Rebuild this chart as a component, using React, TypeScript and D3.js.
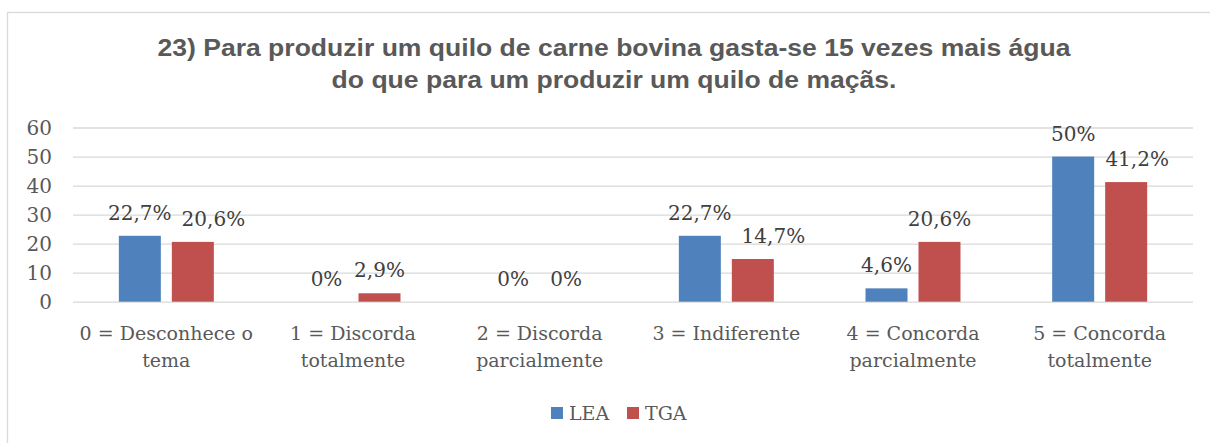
import React, { useEffect, useRef } from 'react';
import * as d3 from 'd3';

// dados
const categorias = [
  '0 = Desconhece o\ntema',
  '1 = Discorda\ntotalmente',
  '2 = Discorda\nparcialmente',
  '3 = Indiferente',
  '4 = Concorda\nparcialmente',
  '5 = Concorda\ntotalmente',
];
const series = ['LEA', 'TGA'];
const valoresLEA = [22.7, 0, 0, 22.7, 4.6, 50];
const valoresTGA = [20.6, 2.9, 0, 14.7, 20.6, 41.2];
const ticksY = [0, 10, 20, 30, 40, 50, 60];
const cores = ['#4F81BD', '#C0504D'];
const titulo = [
  '23) Para produzir um quilo de carne bovina gasta-se 15 vezes mais água',
  'do que para um produzir um quilo de maçãs.',
];

const W = 1210;
const H = 443;
const SERIF = '"DejaVu Serif", serif';

function App() {
  const ref = useRef<SVGSVGElement>(null);

  useEffect(() => {
    const svg = d3.select(ref.current);
    svg.selectAll('*').remove();

    // moldura (só a borda de cima e da esquerda aparecem)
    svg.append('rect')
      .attr('x', 7.5).attr('y', 12.5)
      .attr('width', 1400).attr('height', 600)
      .attr('fill', '#fff')
      .attr('stroke', '#D9D9D9')
      .attr('stroke-width', 1.3);

    // titulo (um pouco esticado na horizontal, como no original)
    svg.append('g').selectAll('text')
      .data(titulo)
      .enter()
      .append('text')
      .attr('transform', (d, i) => `translate(614,${56 + i * 32}) scale(1.13,1)`)
      .attr('text-anchor', 'middle')
      .attr('font-family', '"Liberation Sans", Arial, sans-serif')
      .attr('font-weight', 'bold')
      .attr('font-size', 23.5)
      .attr('fill', '#595959')
      .text(d => d);

    const x0 = d3.scaleBand()
      .domain(categorias)
      .range([73, 1193]);

    const x1 = d3.scaleBand()
      .domain(series)
      .range([0, x0.bandwidth()])
      .paddingInner(0.2075)
      .paddingOuter(0.865);

    const y = d3.scaleLinear()
      .domain([0, 60])
      .range([301.7, 127.5]);

    // linhas de grade
    svg.append('g')
      .attr('transform', 'translate(73,0)')
      .call(d3.axisLeft(y).tickValues(ticksY).tickSize(-1120).tickFormat(() => ''))
      .call(g => g.select('.domain').remove())
      .call(g => g.selectAll('line').attr('stroke', '#D9D9D9').attr('stroke-width', 1.3));

    // rotulos eixo y
    svg.append('g').selectAll('text')
      .data(ticksY)
      .enter()
      .append('text')
      .attr('x', 52)
      .attr('y', d => y(d))
      .attr('dy', '0.35em')
      .attr('text-anchor', 'end')
      .attr('font-family', SERIF)
      .attr('font-size', 20)
      .attr('fill', '#595959')
      .text(d => d);

    const dados = categorias.map((c, i) => ({ cat: c, vals: [valoresLEA[i], valoresTGA[i]] }));

    const grupos = svg.append('g').selectAll('g')
      .data(dados)
      .enter()
      .append('g')
      .attr('transform', d => `translate(${x0(d.cat)},0)`);

    // barras
    grupos.selectAll('rect')
      .data(d => d.vals.map((v, j) => ({ s: series[j], v, j })))
      .enter()
      .append('rect')
      .attr('x', d => x1(d.s)!)
      .attr('y', d => y(d.v))
      .attr('width', x1.bandwidth())
      .attr('height', d => y(0) - y(d.v))
      .attr('fill', d => cores[d.j]);

    // rotulos de dados
    grupos.each(function () {
      const g = d3.select(this);
      const textos = g.selectAll('text')
        .data((d: any) => d.vals.map((v: number, j: number) => ({ s: series[j], v, j })))
        .enter()
        .append('text')
        .attr('x', (d: any) => x1(d.s)! + x1.bandwidth() / 2)
        .attr('y', (d: any) => y(d.v) - 16)
        .attr('text-anchor', 'middle')
        .attr('font-family', SERIF)
        .attr('font-size', 20)
        .attr('fill', '#404040')
        .text((d: any) => String(d.v).replace('.', ',') + '%');

      // afasta o rotulo vermelho se ficar perto do azul
      const nos = textos.nodes() as SVGTextElement[];
      const a = nos[0].getBBox();
      const b = nos[1].getBBox();
      const pertoY = Math.abs(a.y - b.y) < 30;
      if (pertoY && b.x < a.x + a.width + 10) {
        const desloc = a.x + a.width + 10 - b.x;
        d3.select(nos[1]).attr('x', +d3.select(nos[1]).attr('x') + desloc);
      }
    });

    // rotulos do eixo x
    const labels = svg.append('g').selectAll('text')
      .data(categorias)
      .enter()
      .append('text')
      .attr('text-anchor', 'middle')
      .attr('font-family', SERIF)
      .attr('font-size', 19)
      .attr('fill', '#595959');
    labels.selectAll('tspan')
      .data(d => d.split('\n').map(l => ({ l, c: d })))
      .enter()
      .append('tspan')
      .attr('x', d => x0(d.c)! + x0.bandwidth() / 2)
      .attr('y', (d, i) => 340 + i * 26.5)
      .text(d => d.l);

    // legenda
    const leg = svg.append('g').selectAll('g')
      .data(series)
      .enter()
      .append('g')
      .attr('transform', (d, i) => `translate(${551 + i * 76},0)`);
    leg.append('rect')
      .attr('x', 0).attr('y', 407)
      .attr('width', 12).attr('height', 12)
      .attr('fill', (d, i) => cores[i]);
    leg.append('text')
      .attr('x', 18).attr('y', 420)
      .attr('font-family', SERIF)
      .attr('font-size', 19)
      .attr('fill', '#595959')
      .text(d => d);
  }, []);

  return (
    <div>
      <style>{'body{margin:0}'}</style>
      <svg ref={ref} width={W} height={H} style={{ display: 'block', background: '#fff' }} />
    </div>
  );
}

export default App;
